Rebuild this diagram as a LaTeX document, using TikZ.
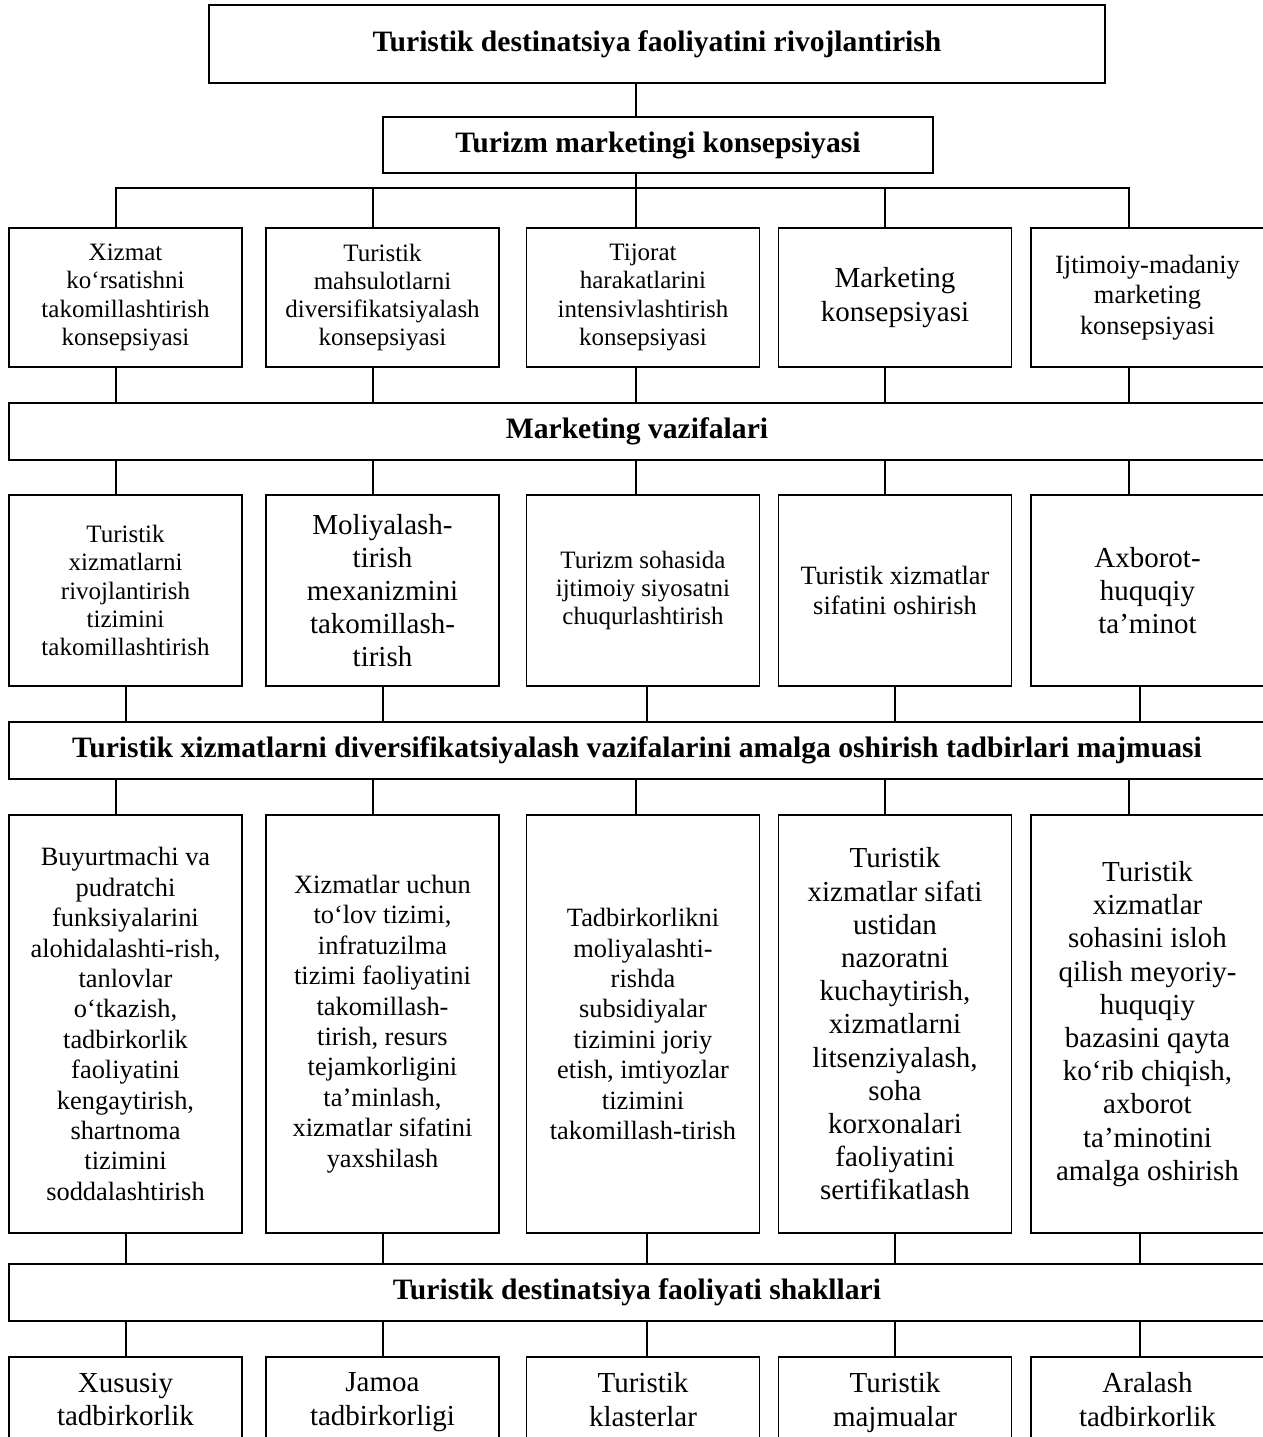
\documentclass[tikz,border=0pt]{standalone}
\usepackage{fontspec}
\setmainfont{Liberation Serif}

\newcommand\txtS{\fontsize{12.5pt}{14.1pt}\selectfont}
\newcommand\txtM{\fontsize{13.2pt}{15.2pt}\selectfont}
\newcommand\txtL{\fontsize{14.5pt}{16.6pt}\selectfont}
\newcommand\txtH{\fontsize{14.8pt}{16.6pt}\selectfont\bfseries}

\begin{document}
\begin{tikzpicture}
        [x=0.5pt,y=-0.5pt,line width=0.8pt,
         cell/.style={draw,align=center,inner sep=1pt,minimum width=116.5pt,font=\txtS},
         band/.style={draw,minimum width=628pt,minimum height=28.5pt,font=\txtH}]
        \useasboundingbox (0,0) rectangle (1263,1437);
        \clip (0,0) rectangle (1263,1437);

        % top of the tree
        \node[draw,minimum width=448pt,minimum height=39pt,font=\txtH] (dest) at (657,44) {Turistik destinatsiya faoliyatini rivojlantirish};
        \node[draw,minimum width=275pt,minimum height=28pt,font=\txtH] (konsep) at (658,145) {Turizm marketingi konsepsiyasi};

        % concepts
        \node[cell,minimum height=69.5pt] (k1) at (125.5,297.5) {Xizmat\\ko‘rsatishni\\takomillashtirish\\konsepsiyasi};
        \node[cell,minimum height=69.5pt] (k2) at (382.5,297.5) {Turistik\\mahsulotlarni\\diversifikatsiyalash\\konsepsiyasi};
        \node[cell,minimum height=69.5pt] (k3) at (643,297.5) {Tijorat\\harakatlarini\\intensivlashtirish\\konsepsiyasi};
        \node[cell,minimum height=69.5pt,font=\txtL] (k4) at (895,297.5) {Marketing\\konsepsiyasi};
        \node[cell,minimum height=69.5pt,font=\txtM] (k5) at (1147.5,297.5) {Ijtimoiy-madaniy\\marketing\\konsepsiyasi};

        \node[band] (vaz) at (637,431.5) {Marketing vazifalari};

        % tasks
        \node[cell,minimum height=95.5pt] (v1) at (125.5,590.5) {Turistik\\xizmatlarni\\rivojlantirish\\tizimini\\takomillashtirish};
        \node[cell,minimum height=95.5pt,font=\txtL] (v2) at (382.5,590.5) {Moliyalash-\\tirish\\mexanizmini\\takomillash-\\tirish};
        \node[cell,minimum height=95.5pt] (v3) at (643,590.5) {Turizm sohasida\\ijtimoiy siyosatni\\chuqurlashtirish};
        \node[cell,minimum height=95.5pt,font=\txtM] (v4) at (895,590.5) {Turistik xizmatlar\\sifatini oshirish};
        \node[cell,minimum height=95.5pt,font=\txtL] (v5) at (1147.5,590.5) {Axborot-\\huquqiy\\ta’minot};

        \node[band] (tad) at (637,750.5) {Turistik xizmatlarni diversifikatsiyalash vazifalarini amalga oshirish tadbirlari majmuasi};

        % measures
        \node[cell,minimum height=209pt,font=\txtM] (t1) at (125.5,1024) {Buyurtmachi va\\pudratchi\\funksiyalarini\\alohidalashti-rish,\\tanlovlar\\o‘tkazish,\\tadbirkorlik\\faoliyatini\\kengaytirish,\\shartnoma\\tizimini\\soddalashtirish};
        \node[cell,minimum height=209pt,font=\txtM] (t2) at (382.5,1024) {Xizmatlar uchun\\to‘lov tizimi,\\infratuzilma\\tizimi faoliyatini\\takomillash-\\tirish, resurs\\tejamkorligini\\ta’minlash,\\xizmatlar sifatini\\yaxshilash};
        \node[cell,minimum height=209pt,font=\txtM] (t3) at (643,1024) {Tadbirkorlikni\\moliyalashti-\\rishda\\subsidiyalar\\tizimini joriy\\etish, imtiyozlar\\tizimini\\takomillash-tirish};
        \node[cell,minimum height=209pt,font=\txtL] (t4) at (895,1024) {Turistik\\xizmatlar sifati\\ustidan\\nazoratni\\kuchaytirish,\\xizmatlarni\\litsenziyalash,\\soha\\korxonalari\\faoliyatini\\sertifikatlash};
        \node[cell,minimum height=209pt,font=\txtL] (t5) at (1147.5,1024) {Turistik\\xizmatlar\\sohasini isloh\\qilish meyoriy-\\huquqiy\\bazasini qayta\\ko‘rib chiqish,\\axborot\\ta’minotini\\amalga oshirish};

        \node[band] (shakl) at (637,1292.5) {Turistik destinatsiya faoliyati shakllari};

        % forms
        \node[cell,anchor=north,inner ysep=8pt,text depth=24pt,font=\txtL] (s1) at (125.5,1356) {Xususiy\\tadbirkorlik};
        \node[cell,anchor=north,inner ysep=8pt,text depth=24pt,font=\txtL] (s2) at (382.5,1356) {Jamoa\\tadbirkorligi};
        \node[cell,anchor=north,inner ysep=8pt,text depth=24pt,font=\txtL] (s3) at (643,1356) {Turistik\\klasterlar};
        \node[cell,anchor=north,inner ysep=8pt,text depth=24pt,font=\txtL] (s4) at (895,1356) {Turistik\\majmualar};
        \node[cell,anchor=north,inner ysep=8pt,text depth=24pt,font=\txtL] (s5) at (1147.5,1356) {Aralash\\tadbirkorlik};

        \foreach \x [count=\i] in {116,373,636,885,1129}
        {\coordinate (c\i) at (\x,188);}
        \foreach \x [count=\i] in {126,383,647,895,1140}
        {\coordinate (d\i) at (\x,188);}

        \draw (dest.south -| c3) -- (konsep.north -| c3);
        \draw (konsep.south -| c3) -- (c3);
        \draw (k1.north -| c1) -- (c1) -- (c5) -- (k5.north -| c5);

        \foreach \i in {1,...,5}
        {\draw (c\i) -- (k\i.north -| c\i);
         \draw (k\i.south -| c\i) -- (vaz.north -| c\i);
         \draw (vaz.south -| c\i) -- (v\i.north -| c\i);
         \draw (v\i.south -| d\i) -- (tad.north -| d\i);
         \draw (tad.south -| c\i) -- (t\i.north -| c\i);
         \draw (t\i.south -| d\i) -- (shakl.north -| d\i);
         \draw (shakl.south -| d\i) -- (s\i.north -| d\i);}
      \end{tikzpicture}
\end{document}
